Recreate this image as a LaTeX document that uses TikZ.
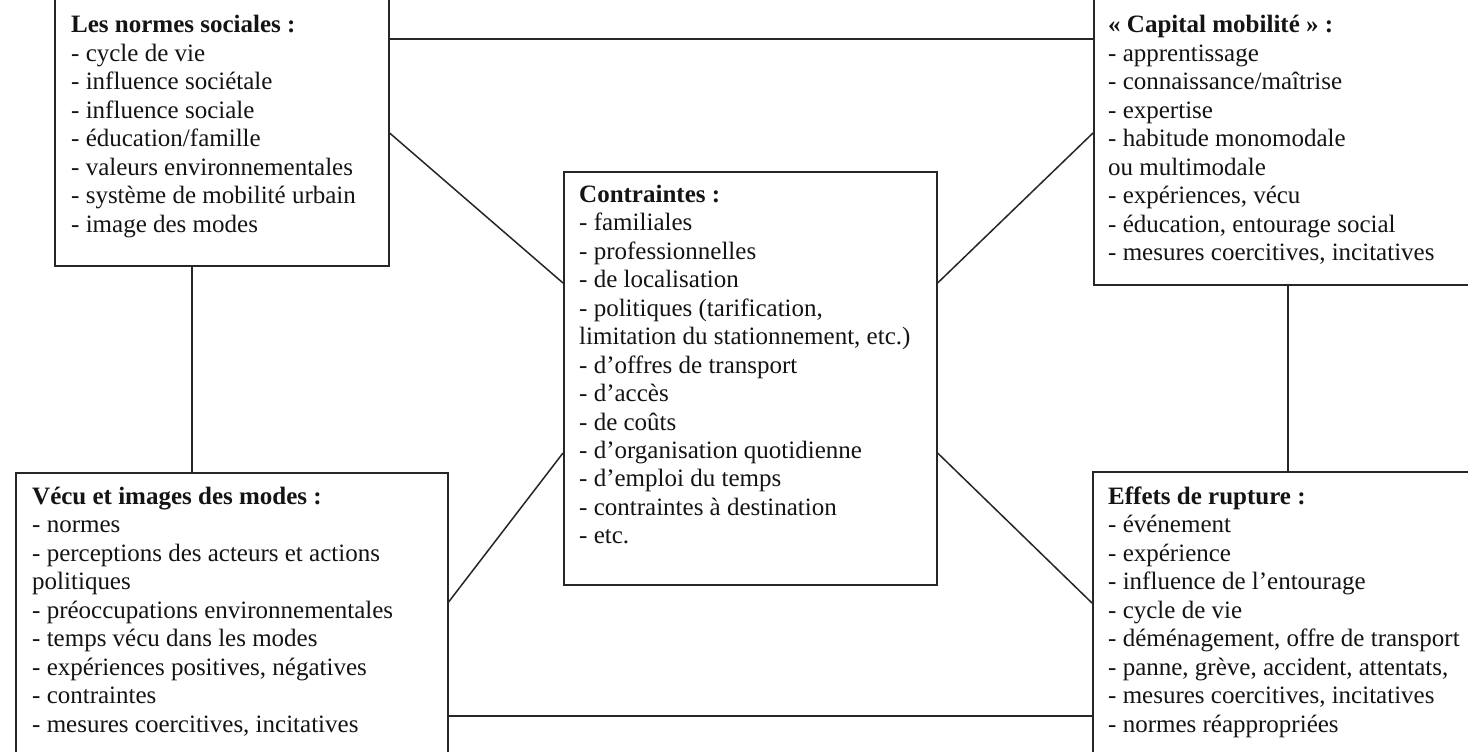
\documentclass[tikz,border=0pt]{standalone}
\usepackage{fontspec}
\setmainfont{Liberation Serif}
\tikzset{
  boxshape/.style={draw=black!85, line width=1.6pt, rectangle, inner sep=0pt, anchor=north west},
  boxtext/.style={anchor=base west, inner sep=0pt, font=\fontsize{25}{28.5}\selectfont, text=black!92},
  link/.style={draw=black!85, line width=1.5pt}
}
\newcommand{\boxlines}[1]{\parbox[t]{480pt}{\raggedright #1}}
\begin{document}
\begin{tikzpicture}[x=1pt,y=-1pt]
\useasboundingbox (0,0) rectangle (1468,752);
\clip (0,0) rectangle (1468,752);
\fill[white] (0,0) rectangle (1468,752);

% boxes
\node[boxshape, minimum width=334pt, minimum height=275pt] (A) at (54,-10) {};
\node[boxshape, minimum width=400pt, minimum height=294pt] (B) at (1093,-10) {};
\node[boxshape, minimum width=373pt, minimum height=413pt] (C) at (563,171) {};
\node[boxshape, minimum width=432pt, minimum height=300pt] (D) at (15,472) {};
\node[boxshape, minimum width=400pt, minimum height=300pt] (E) at (1092,471) {};

% texts
\node[boxtext] (At) at (71,33) {\boxlines{\textbf{Les normes sociales :}\\
- cycle de vie\\
- influence sociétale\\
- influence sociale\\
- éducation/famille\\
- valeurs environnementales\\
- système de mobilité urbain\\
- image des modes}};

\node[boxtext] (Bt) at (1108,33) {\boxlines{\textbf{« Capital mobilité » :}\\
- apprentissage\\
- connaissance/maîtrise\\
- expertise\\
- habitude monomodale\\
ou multimodale\\
- expériences, vécu\\
- éducation, entourage social\\
- mesures coercitives, incitatives}};

\node[boxtext] (Ct) at (579,202) {\boxlines{\textbf{Contraintes :}\\
- familiales\\
- professionnelles\\
- de localisation\\
- politiques (tarification,\\
limitation du stationnement, etc.)\\
- d’offres de transport\\
- d’accès\\
- de coûts\\
- d’organisation quotidienne\\
- d’emploi du temps\\
- contraintes à destination\\
- etc.}};

\node[boxtext] (Dt) at (32,504) {\boxlines{\textbf{Vécu et images des modes :}\\
- normes\\
- perceptions des acteurs et actions\\
politiques\\
- préoccupations environnementales\\
- temps vécu dans les modes\\
- expériences positives, négatives\\
- contraintes\\
- mesures coercitives, incitatives}};

\node[boxtext] (Et) at (1108,504) {\boxlines{\textbf{Effets de rupture :}\\
- événement\\
- expérience\\
- influence de l’entourage\\
- cycle de vie\\
- déménagement, offre de transport\\
- panne, grève, accident, attentats,\\
- mesures coercitives, incitatives\\
- normes réappropriées}};

% connectors
\draw[link] (A.east |- 0,39) -- (B.west |- 0,39);
\draw[link] (A.east |- 0,133) -- (C.west |- 0,283);
\draw[link] (B.west |- 0,133) -- (C.east |- 0,283);
\draw[link] (C.west |- 0,453) -- (D.east |- 0,602);
\draw[link] (C.east |- 0,453) -- (E.west |- 0,603);
\draw[link] (D.east |- 0,716) -- (E.west |- 0,716);
\draw[link] (A.south -| 192,0) -- (D.north -| 192,0);
\draw[link] (B.south -| 1288,0) -- (E.north -| 1288,0);
\end{tikzpicture}
\end{document}
